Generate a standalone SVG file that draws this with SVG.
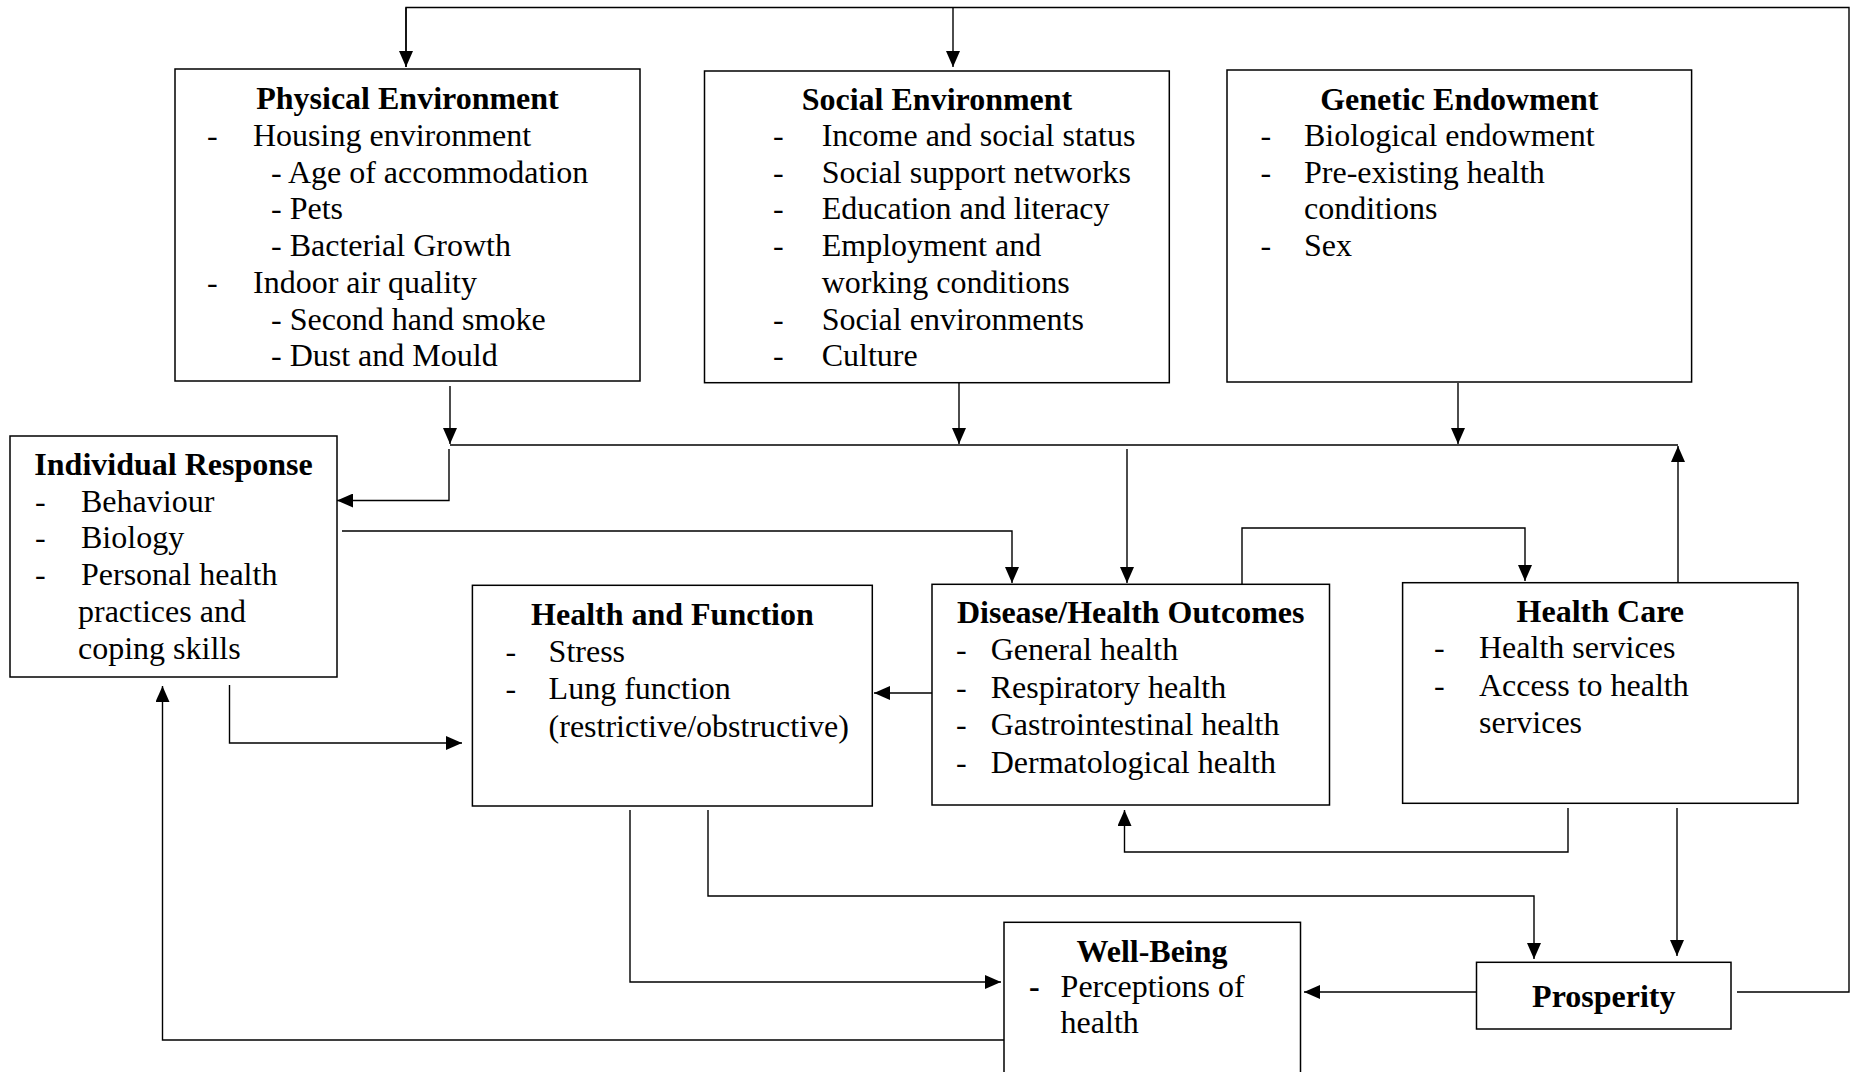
<svg xmlns="http://www.w3.org/2000/svg" width="1860" height="1072" viewBox="0 0 1860 1072">
<defs>
<marker id="ah" markerUnits="userSpaceOnUse" markerWidth="16" markerHeight="14" refX="16" refY="7" orient="auto">
<path d="M0,0 L16,7 L0,14 z" fill="#000"/>
</marker>
<style>
.box{fill:#fff;stroke:#000;stroke-width:1.5}
.t{font-family:"Liberation Serif","Times New Roman",serif;font-size:32px;fill:#000}
.b{font-weight:bold}
.m{text-anchor:middle}
.c{fill:none;stroke:#000;stroke-width:1.4}
.a{marker-end:url(#ah)}
</style>
</defs>
<rect width="1860" height="1072" fill="#fff"/>

<g id="connectors">
<path class="c" d="M1737,992 H1849 V7.5 H406 V67"/>
<path class="c a" d="M406,7.5 V67"/>
<path class="c a" d="M953,7.5 V67"/>
<path class="c a" d="M450,386 V444"/>
<path class="c" d="M450,445 H1678"/>
<path class="c a" d="M959,383 V444"/>
<path class="c a" d="M1458,383 V444"/>
<path class="c a" d="M449,449 V500.5 H337"/>
<path class="c a" d="M1127,449 V583"/>
<path class="c a" d="M342,531 H1012 V583"/>
<path class="c a" d="M1242,584 V528 H1525 V581"/>
<path class="c a" d="M1678,582 V446"/>
<path class="c a" d="M932,693 H874"/>
<path class="c a" d="M229.5,685 V743 H462"/>
<path class="c a" d="M630,810 V982 H1001"/>
<path class="c a" d="M708,810 V896 H1534 V959"/>
<path class="c a" d="M1677,808 V956"/>
<path class="c a" d="M1568,808 V852 H1124.5 V810"/>
<path class="c a" d="M1477,992 H1304"/>
<path class="c a" d="M1004,1040 H162.5 V686"/>
</g>

<g id="physical-environment">
<rect class="box" x="175" y="69" width="465" height="312"/>
<text class="t b m" x="407.5" y="109">Physical Environment</text>
<text class="t" x="207" y="146">-</text><text class="t" x="253" y="146">Housing environment</text>
<text class="t" x="271" y="182.7">- Age of accommodation</text>
<text class="t" x="271" y="219.4">- Pets</text>
<text class="t" x="271" y="256.1">- Bacterial Growth</text>
<text class="t" x="207" y="292.8">-</text><text class="t" x="253" y="292.8">Indoor air quality</text>
<text class="t" x="271" y="329.5">- Second hand smoke</text>
<text class="t" x="271" y="366.2">- Dust and Mould</text>
</g>

<g id="social-environment">
<rect class="box" x="704.5" y="71" width="464.8" height="311.7"/>
<text class="t b m" x="937" y="110">Social Environment</text>
<text class="t" x="773" y="146">-</text><text class="t" x="821.7" y="146">Income and social status</text>
<text class="t" x="773" y="182.7">-</text><text class="t" x="821.7" y="182.7">Social support networks</text>
<text class="t" x="773" y="219.4">-</text><text class="t" x="821.7" y="219.4">Education and literacy</text>
<text class="t" x="773" y="256.1">-</text><text class="t" x="821.7" y="256.1">Employment and</text>
<text class="t" x="821.7" y="292.8">working conditions</text>
<text class="t" x="773" y="329.5">-</text><text class="t" x="821.7" y="329.5">Social environments</text>
<text class="t" x="773" y="366.2">-</text><text class="t" x="821.7" y="366.2">Culture</text>
</g>

<g id="genetic-endowment">
<rect class="box" x="1227" y="70" width="464.6" height="312"/>
<text class="t b m" x="1459.3" y="110">Genetic Endowment</text>
<text class="t" x="1260.5" y="146">-</text><text class="t" x="1304" y="146">Biological endowment</text>
<text class="t" x="1260.5" y="182.7">-</text><text class="t" x="1304" y="182.7">Pre-existing health</text>
<text class="t" x="1304" y="219.4">conditions</text>
<text class="t" x="1260.5" y="256.1">-</text><text class="t" x="1304" y="256.1">Sex</text>
</g>

<g id="individual-response">
<rect class="box" x="10" y="436" width="327" height="241"/>
<text class="t b m" x="173.5" y="475">Individual Response</text>
<text class="t" x="35" y="511.7">-</text><text class="t" x="81" y="511.7">Behaviour</text>
<text class="t" x="35" y="548.4">-</text><text class="t" x="81" y="548.4">Biology</text>
<text class="t" x="35" y="585.1">-</text><text class="t" x="81" y="585.1">Personal health</text>
<text class="t" x="78" y="621.8">practices and</text>
<text class="t" x="78" y="658.5">coping skills</text>
</g>

<g id="health-and-function">
<rect class="box" x="472.4" y="585.3" width="399.9" height="220.7"/>
<text class="t b m" x="672.4" y="625">Health and Function</text>
<text class="t" x="505.4" y="661.7">-</text><text class="t" x="548.6" y="661.7">Stress</text>
<text class="t" x="505.4" y="699.3">-</text><text class="t" x="548.6" y="699.3">Lung function</text>
<text class="t" x="548.6" y="736.7">(restrictive/obstructive)</text>
</g>

<g id="disease-health-outcomes">
<rect class="box" x="932" y="584.3" width="397.5" height="220.7"/>
<text class="t b m" x="1130.7" y="623">Disease/Health Outcomes</text>
<text class="t" x="956" y="660">-</text><text class="t" x="990.7" y="660">General health</text>
<text class="t" x="956" y="697.5">-</text><text class="t" x="990.7" y="697.5">Respiratory health</text>
<text class="t" x="956" y="735">-</text><text class="t" x="990.7" y="735">Gastrointestinal health</text>
<text class="t" x="956" y="772.5">-</text><text class="t" x="990.7" y="772.5">Dermatological health</text>
</g>

<g id="health-care">
<rect class="box" x="1402.6" y="582.7" width="395.4" height="220.6"/>
<text class="t b m" x="1600.3" y="621.7">Health Care</text>
<text class="t" x="1434" y="658">-</text><text class="t" x="1479" y="658">Health services</text>
<text class="t" x="1434" y="695.7">-</text><text class="t" x="1479" y="695.7">Access to health</text>
<text class="t" x="1479" y="733">services</text>
</g>

<g id="well-being">
<rect class="box" x="1004" y="922.3" width="296.5" height="160"/>
<text class="t b m" x="1152" y="961.7">Well-Being</text>
<text class="t b" x="1029" y="996.7">-</text><text class="t" x="1060.6" y="996.7">Perceptions of</text>
<text class="t" x="1060.6" y="1033.3">health</text>
</g>

<g id="prosperity">
<rect class="box" x="1476.5" y="962.3" width="254.5" height="66.7"/>
<text class="t b m" x="1603.8" y="1006.7">Prosperity</text>
</g>
</svg>
